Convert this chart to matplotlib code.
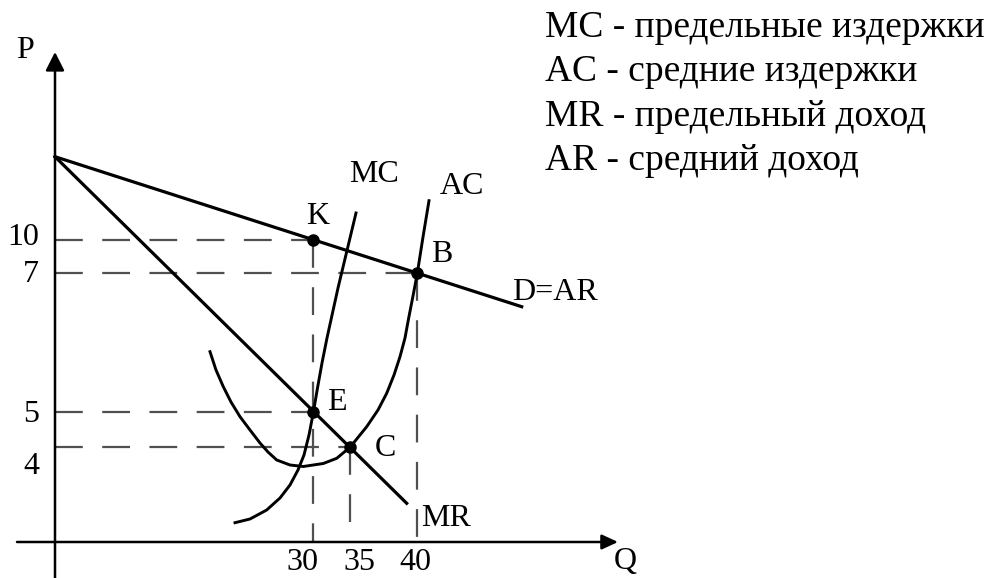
import matplotlib
matplotlib.use('Agg')
import numpy as np
import matplotlib.pyplot as plt

plt.rcParams['font.family'] = ['Liberation Serif', 'DejaVu Serif']
plt.rcParams['lines.scale_dashes'] = False

# diagram coordinates (schematic, origin at axis crossing)
# demand D=AR and marginal revenue MR: straight lines from the same intercept
d_q = [0, 466.7]
d_p = [385.3, 235.3]
mr_q = [0, 351.7]
mr_p = [385.3, 38.7]

# marginal cost curve
mc_q = [180, 195, 211.7, 225, 235, 243, 249, 254, 258.3, 262.5, 267, 272, 277.5, 283, 289, 295, 301]
mc_p = [19.3, 23, 32, 44, 57, 72, 87, 107, 129.3, 154, 179, 204, 229, 254, 279, 304, 329]

# average cost curve (U shape)
ac_q = [155, 161, 168.3, 176, 185, 195, 205, 213, 221.7, 235, 248.3, 268.3, 281.7,
        295, 311.7, 323, 331.7, 339, 345, 350, 353.3, 358, 362.3, 368, 374]
ac_p = [190.3, 172, 155.3, 140, 125.3, 112, 99, 90, 82, 77, 75.5, 78.5, 83.7,
        94.7, 115.3, 132, 148.7, 167, 185.3, 204, 222, 246, 268.7, 305, 341.3]

# marked points K, B, E, C
pt_names = ['K', 'B', 'E', 'C']
pt_q = [257.5, 362, 257.5, 295]
pt_p = [302.5, 269, 130, 94.7]

q_ticks = ['30', '35', '40']
p_ticks = ['10', '7', '5', '4']

legend_lines = ['MC - предельные издержки',
                'AC - средние издержки',
                'MR - предельный доход',
                'AR - средний доход']

fig = plt.figure(figsize=(9.89, 5.78), dpi=100)
ax = fig.add_axes([0, 0, 1, 1])
ax.set_xlim(-55, 934)
ax.set_ylim(-36, 542)
ax.axis('off')

dash_col = '#505050'
dash = dict(color=dash_col, lw=1.6, linestyle=(0, (20, 14)))

# guide lines
for i in range(4):
    ax.plot([0, pt_q[i]], [pt_p[i], pt_p[i]], **dash)
for i in [0, 1, 3]:
    ax.plot([pt_q[i], pt_q[i]], [pt_p[i], 0], **dash)

# axes with arrows
ax.annotate('', xy=(0, 490), xytext=(0, -36),
            arrowprops=dict(arrowstyle='-|>,head_length=0.75,head_width=0.38',
                            mutation_scale=15, lw=1.8, color='black',
                            shrinkA=0, shrinkB=0))
ax.annotate('', xy=(563, 0), xytext=(-38, 0),
            arrowprops=dict(arrowstyle='-|>,head_length=0.65,head_width=0.3',
                            mutation_scale=15, lw=1.8, color='black',
                            shrinkA=0, shrinkB=0))

# curves
ax.plot(d_q, d_p, color='black', lw=2.3)
ax.plot(mr_q, mr_p, color='black', lw=2.3)
ax.plot(mc_q, mc_p, color='black', lw=2.1)
ax.plot(ac_q, ac_p, color='black', lw=2.1)
ax.plot(pt_q, pt_p, 'o', color='black', markersize=8)

fs = 23
ax.text(-30, 492, 'P', fontsize=fs, ha='center', va='center')
ax.text(570, -19, 'Q', fontsize=fs, ha='center', va='center')

# tick labels
for lab, x in zip(q_ticks, [247.5, 304, 360]):
    ax.text(x, -20.5, lab, fontsize=fs, ha='center', va='center')
for lab, y in zip(p_ticks, [304.5, 267, 128, 75]):
    ax.text(-16, y, lab, fontsize=fs, ha='right', va='center')

# curve and point labels
labels = [('K', 262.5, 325), ('B', 387, 288), ('E', 282, 139.5), ('C', 330, 93),
          ('MC', 319, 368), ('AC', 406.5, 356), ('D=AR', 500, 249), ('MR', 391, 24)]
for txt, x, y in labels:
    ax.text(x, y, txt, fontsize=fs, ha='center', va='center')

for i, line in enumerate(legend_lines):
    ax.text(490, 505 - i * 44.3, line, fontsize=27, ha='left', va='baseline')

fig.savefig('out.png', dpi=100)
